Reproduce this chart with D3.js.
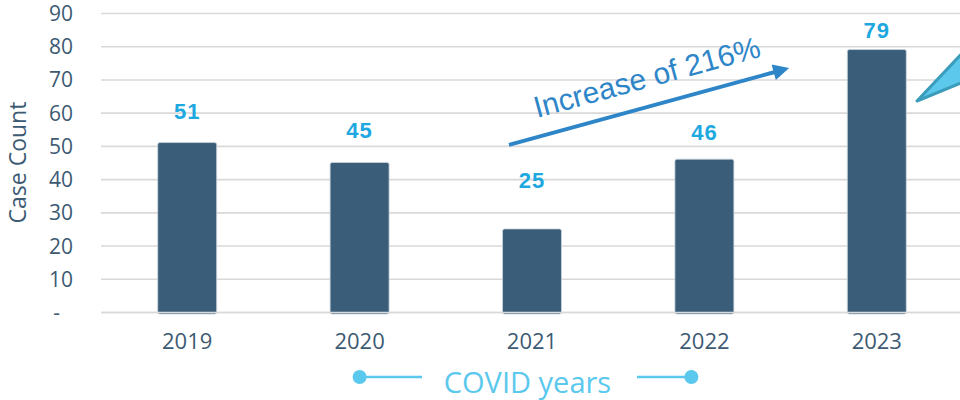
<!DOCTYPE html>
<html>
<head>
<meta charset="utf-8">
<script src="https://cdn.jsdelivr.net/npm/d3@7/dist/d3.min.js"></script>
<style>
  body { margin: 0; background: #fff; }
  svg { display: block; }
</style>
</head>
<body>
<svg id="chart"></svg>
<script>
// Chart data
const years = ['2019', '2020', '2021', '2022', '2023'];
const caseCounts = [51, 45, 25, 46, 79];
const yTicks = [0, 10, 20, 30, 40, 50, 60, 70, 80, 90];
const annotationText = 'Increase of 216%';
const covidLabel = 'COVID years';
const covidYears = ['2020', '2022'];

const width = 960;
const height = 400;
const margin = { top: 13, right: -3, bottom: 88, left: 101 };

// vertical nudge (px) of each value label above its bar
const labelLift = [32, 33, 49, 27, 20];

const svg = d3.select('#chart')
    .attr('width', width)
    .attr('height', height)
    .style('font-family', '"Open Sans", sans-serif');

const x = d3.scaleBand()
    .domain(years)
    .range([margin.left, width - margin.right])
    .paddingInner(0.658)
    .paddingOuter(0.329);

const y = d3.scaleLinear()
    .domain([0, 90])
    .range([height - margin.bottom, margin.top]);

// Gridlines
svg.append('g')
    .selectAll('line')
    .data(yTicks)
    .enter()
    .append('line')
    .attr('x1', margin.left)
    .attr('x2', width)
    .attr('y1', d => y(d) + 0.5)
    .attr('y2', d => y(d) + 0.5)
    .attr('stroke', '#d9d9d9')
    .attr('stroke-width', 1.6);

// Y tick labels
svg.append('g')
    .selectAll('text')
    .data(yTicks)
    .enter()
    .append('text')
    .attr('x', d => d === 0 ? 60 : 73)
    .attr('y', d => y(d) + 8)
    .attr('text-anchor', 'end')
    .attr('fill', '#3d5a73')
    .style('font-size', '21px')
    .text(d => d === 0 ? '-' : d);

// Y axis title
svg.append('text')
    .attr('transform', `translate(26, ${y(45)}) rotate(-90)`)
    .attr('text-anchor', 'middle')
    .attr('fill', '#3d5a73')
    .style('font-size', '23px')
    .text('Case Count');

// Bars
svg.append('g')
    .selectAll('rect')
    .data(caseCounts)
    .enter()
    .append('rect')
    .attr('x', (d, i) => x(years[i]))
    .attr('y', d => y(d))
    .attr('width', x.bandwidth())
    .attr('height', d => y(0) - y(d) + 2)
    .attr('rx', 2)
    .attr('fill', '#3a5e79')
    .attr('stroke', '#c9d3dc')
    .attr('stroke-width', 0.8);

// Baseline drawn over bars
svg.append('line')
    .attr('x1', margin.left)
    .attr('x2', width)
    .attr('y1', y(0) + 0.5)
    .attr('y2', y(0) + 0.5)
    .attr('stroke', '#d9d9d9')
    .attr('stroke-width', 1.6);

// Value labels
svg.append('g')
    .selectAll('text')
    .data(caseCounts)
    .enter()
    .append('text')
    .attr('x', (d, i) => x(years[i]) + x.bandwidth() / 2)
    .attr('y', (d, i) => y(d) - labelLift[i] + 8)
    .attr('text-anchor', 'middle')
    .attr('fill', '#1ea8e0')
    .style('font-size', '22px')
    .style('font-weight', 'bold')
    .style('letter-spacing', '1px')
    .style('font-family', '"Liberation Sans", Arial, sans-serif')
    .text(d => d);

// X labels
svg.append('g')
    .selectAll('text')
    .data(years)
    .enter()
    .append('text')
    .attr('x', d => x(d) + x.bandwidth() / 2)
    .attr('y', 349)
    .attr('text-anchor', 'middle')
    .attr('fill', '#3d5a73')
    .style('font-size', '22px')
    .text(d => d);

// Increase arrow
const defs = svg.append('defs');
defs.append('marker')
    .attr('id', 'arrowhead')
    .attr('viewBox', '0 0 10 10')
    .attr('refX', 2)
    .attr('refY', 5)
    .attr('markerWidth', 4.5)
    .attr('markerHeight', 4)
    .attr('orient', 'auto')
    .append('path')
    .attr('d', 'M0,0 L10,5 L0,10 Z')
    .attr('fill', '#2e86c8');

const ax0 = x('2021') + x.bandwidth() / 2 - 23;
const ax1 = x('2023') + x.bandwidth() / 2 - 100;
svg.append('line')
    .attr('x1', ax0)
    .attr('y1', y(50.3))
    .attr('x2', ax1)
    .attr('y2', y(72.4))
    .attr('stroke', '#2e86c8')
    .attr('stroke-width', 4)
    .attr('marker-end', 'url(#arrowhead)');

svg.append('text')
    .attr('transform', `translate(537, 118) rotate(-15.3)`)
    .attr('fill', '#2e86c8')
    .style('font-size', '30px')
    .style('font-family', '"Liberation Sans", Arial, sans-serif')
    .text(annotationText);

// Callout pointer on the right
svg.append('path')
    .attr('d', 'M917,101 L968,47 L968,80 Z')
    .attr('fill', '#5bc8ec')
    .attr('stroke', '#3b9dbb')
    .attr('stroke-width', 3)
    .attr('stroke-linejoin', 'round');

// COVID years bracket
const cy = 377;
const cx0 = x(covidYears[0]) + x.bandwidth() / 2;
const cx1 = x(covidYears[1]) + x.bandwidth() / 2 - 13;
const bracket = svg.append('g');
bracket.append('line')
    .attr('x1', cx0).attr('x2', 422)
    .attr('y1', cy).attr('y2', cy)
    .attr('stroke', '#5bc8ee').attr('stroke-width', 2.5);
bracket.append('line')
    .attr('x1', 637).attr('x2', cx1)
    .attr('y1', cy).attr('y2', cy)
    .attr('stroke', '#5bc8ee').attr('stroke-width', 2.5);
bracket.selectAll('circle')
    .data([cx0, cx1])
    .enter()
    .append('circle')
    .attr('cx', d => d)
    .attr('cy', cy)
    .attr('r', 7)
    .attr('fill', '#5bc8ee');
bracket.append('text')
    .attr('x', (442 + 613) / 2)
    .attr('y', cy + 16)
    .attr('text-anchor', 'middle')
    .attr('fill', '#5bc8ee')
    .style('font-size', '29px')
    .text(covidLabel);
</script>
</body>
</html>
